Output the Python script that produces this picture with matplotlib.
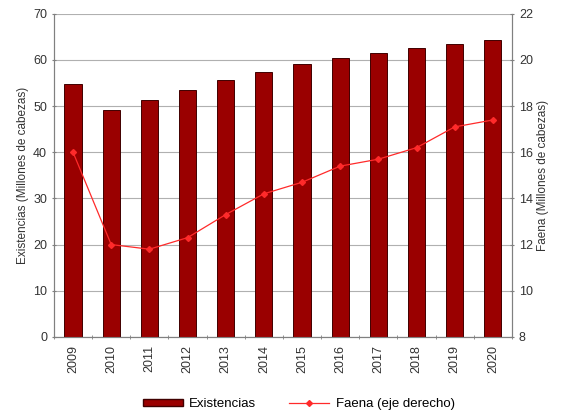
import numpy as np
import matplotlib.pyplot as plt
from matplotlib.patches import Patch
from matplotlib.lines import Line2D

plt.rcParams['font.family'] = ['Liberation Sans', 'DejaVu Sans']

years = ['2009', '2010', '2011', '2012', '2013', '2014',
         '2015', '2016', '2017', '2018', '2019', '2020']
existencias = [54.7, 49.2, 51.4, 53.6, 55.7, 57.3, 59.2, 60.5, 61.6, 62.5, 63.5, 64.4]
faena = [16.0, 12.0, 11.8, 12.3, 13.3, 14.2, 14.7, 15.4, 15.7, 16.2, 17.1, 17.4]

bar_color = '#9a0000'
edge_color = '#400000'
line_color = '#ff2a2a'
axis_gray = '#808080'
text_color = '#333333'

fig = plt.figure(figsize=(5.64, 4.19), dpi=100)
ax = fig.add_axes([0.0957, 0.196, 0.812, 0.771])
x = np.arange(len(years))

ax.bar(x, existencias, width=0.45, color=bar_color, edgecolor=edge_color,
       linewidth=0.7, zorder=3)
ax.set_xlim(-0.5, len(years) - 0.5)
ax.set_ylim(0, 70)
ax.set_yticks(range(0, 71, 10))
ax.set_xticks(x)
ax.set_xticklabels(years, rotation=90, fontsize=9, color=text_color)
ax.set_xticks(np.arange(-0.5, len(years), 1), minor=True)
ax.tick_params(axis='x', which='major', length=0, pad=6)
ax.tick_params(axis='x', which='minor', length=3, color=axis_gray, direction='inout')
ax.tick_params(axis='y', labelsize=9, colors=text_color, length=3,
               color=axis_gray, direction='inout')
ax.grid(axis='y', color='#b0b0b0', linewidth=0.8, zorder=0)
ax.set_ylabel('Existencias (Millones de cabezas)', fontsize=8.5, color=text_color, labelpad=3)
for s in ['left', 'bottom', 'right']:
    ax.spines[s].set_color(axis_gray)
ax.spines['top'].set_visible(False)

ax2 = ax.twinx()
ax2.plot(x, faena, color=line_color, linewidth=0.9, marker='D', markersize=3,
         zorder=4)
ax2.set_ylim(8, 22)
ax2.set_yticks(range(8, 23, 2))
ax2.tick_params(axis='y', labelsize=9, colors=text_color, length=3,
                color=axis_gray, direction='inout')
ax2.set_ylabel('Faena (Millones de cabezas)', fontsize=8.5, color=text_color,
               rotation=90, labelpad=3)
for s in ['left', 'bottom', 'right']:
    ax2.spines[s].set_color(axis_gray)
ax2.spines['top'].set_visible(False)

handles = [Patch(facecolor=bar_color, edgecolor=edge_color),
           Line2D([0], [0], color=line_color, marker='D', markersize=3, linewidth=0.9)]
fig.legend(handles, ['Existencias', 'Faena (eje derecho)'], loc='center',
           bbox_to_anchor=(0.53, 0.035), ncol=2, frameon=False, fontsize=9.5,
           handlelength=3.0, handleheight=0.5, handletextpad=0.5,
           columnspacing=2.5)

fig.savefig('out.png', dpi=100)
